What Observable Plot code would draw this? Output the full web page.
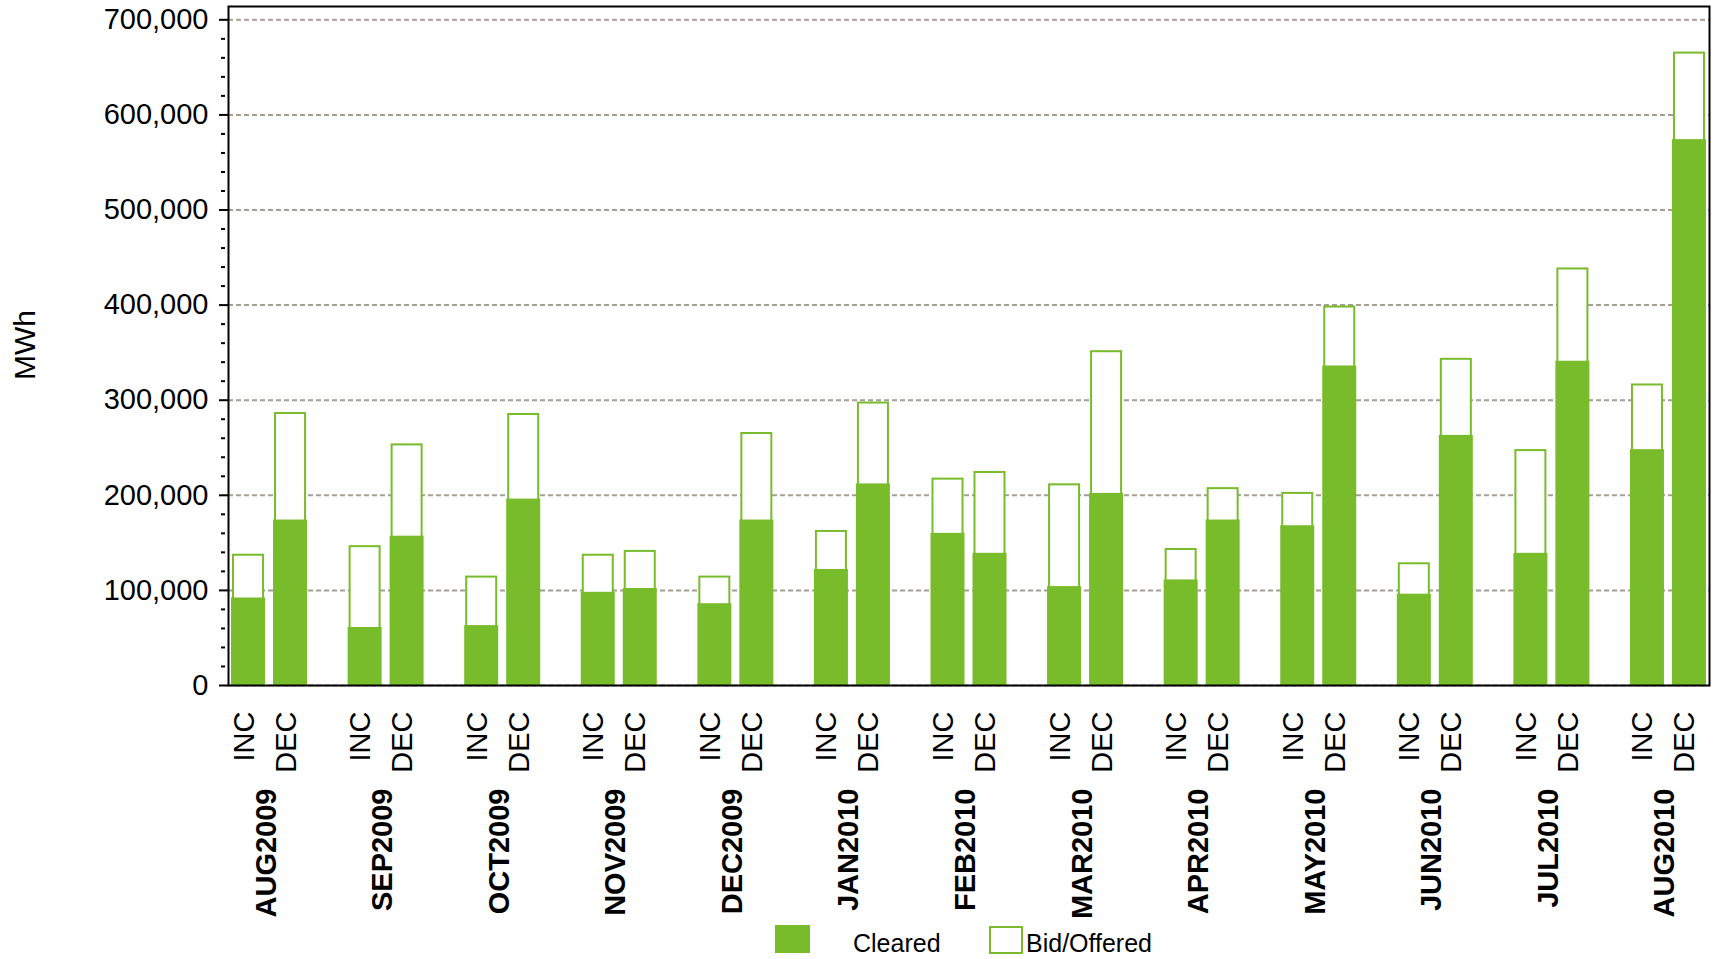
<!DOCTYPE html>
<html><head><meta charset="utf-8">
<script src="https://cdn.jsdelivr.net/npm/d3@7"></script>
<script src="https://cdn.jsdelivr.net/npm/@observablehq/plot@0.6"></script>
<style>
body{margin:0;background:#fff;font-family:"Liberation Sans",Arial,sans-serif;}
#wrap{width:1713px;}
svg{display:block;}
</style></head><body><div id="wrap"></div>
<script>
const months = ["AUG2009","SEP2009","OCT2009","NOV2009","DEC2009","JAN2010","FEB2010","MAR2010","APR2010","MAY2010","JUN2010","JUL2010","AUG2010"];
const incBid =     [137000,146000,114000,137000,114000,162000,217000,211000,143000,202000,128000,247000,316000];
const incCleared = [ 92000, 61000, 63000, 98000, 86000,122000,160000,104000,111000,168000, 96000,139000,248000];
const decBid =     [286000,253000,285000,141000,265000,297000,224000,351000,207000,398000,343000,438000,665000];
const decCleared = [174000,157000,196000,102000,174000,212000,139000,202000,174000,336000,263000,341000,574000];
const yTicks = [0,100000,200000,300000,400000,500000,600000,700000];
const sideLabels = ["INC","DEC"];
const legendLabels = ["Cleared","Bid/Offered"];

const green = "#79bc2b";
const gridColor = "#a69d94";
const minorTicks = d3.range(0, 700001, 20000).filter(v => v % 100000 !== 0);

const rows = months.map((m, i) => ({month: m, incBid: incBid[i], incCleared: incCleared[i], decBid: decBid[i], decCleared: decCleared[i]}));

const chart = Plot.plot({
  width: 1713, height: 922,
  marginLeft: 228, marginRight: 4, marginTop: 6, marginBottom: 237,
  style: {fontFamily: "'Liberation Sans', Arial, sans-serif", fontSize: "29px", color: "#000", background: "#fff", overflow: "visible"},
  x: {domain: months, paddingInner: 0.348, paddingOuter: 0.026, round: false, axis: null},
  y: {domain: [0, 714000], axis: null},
  marks: [
    Plot.ruleY(yTicks, {stroke: gridColor, strokeWidth: 2, strokeDasharray: "5,3"}),
    Plot.barY(rows, {x: "month", y: "incBid", fill: "white", stroke: green, strokeWidth: 2, insetLeft: 2, insetRight: 44}),
    Plot.barY(rows, {x: "month", y: "decBid", fill: "white", stroke: green, strokeWidth: 2, insetLeft: 44, insetRight: 2}),
    Plot.barY(rows, {x: "month", y: "incCleared", fill: green, insetRight: 42}),
    Plot.barY(rows, {x: "month", y: "decCleared", fill: green, insetLeft: 42}),
    Plot.frame({stroke: "black", strokeWidth: 2}),
    Plot.axisY(yTicks, {tickSize: 9, tickPadding: 11, tickFormat: d3.format(","), fontSize: 29, stroke: "black", strokeWidth: 2, label: null}),
    Plot.axisY(minorTicks, {tickSize: 4, dx: -3, tickFormat: () => "", stroke: "black", strokeWidth: 2, label: null}),
    Plot.text(months, {x: d => d, text: () => sideLabels[0], frameAnchor: "bottom", dx: -16, dy: 26, rotate: -90, textAnchor: "end", fontSize: 29}),
    Plot.text(months, {x: d => d, text: () => sideLabels[1], frameAnchor: "bottom", dx: 26, dy: 26, rotate: -90, textAnchor: "end", fontSize: 29}),
    Plot.text(months, {x: d => d, text: d => d, frameAnchor: "bottom", dx: 6, dy: 103, rotate: -90, textAnchor: "end", fontWeight: "bold", fontSize: 29}),
    Plot.text(["MWh"], {frameAnchor: "left", text: d => d, dx: -203, dy: -1, rotate: -90, textAnchor: "middle", fontSize: 30})
  ]
});
document.getElementById("wrap").appendChild(chart);

// legend below the chart
const leg = d3.create("svg").attr("width", 1713).attr("height", 37)
  .style("font-family", "'Liberation Sans', Arial, sans-serif").style("font-size", "25px");
leg.append("rect").attr("x", 775).attr("y", 3).attr("width", 35).attr("height", 28).attr("fill", green);
leg.append("text").attr("x", 853).attr("y", 30).text(legendLabels[0]);
leg.append("rect").attr("x", 990).attr("y", 5).attr("width", 32).attr("height", 26).attr("fill", "none").attr("stroke", green).attr("stroke-width", 2);
leg.append("text").attr("x", 1026).attr("y", 30).text(legendLabels[1]);
document.getElementById("wrap").appendChild(leg.node());
</script>
</body></html>
